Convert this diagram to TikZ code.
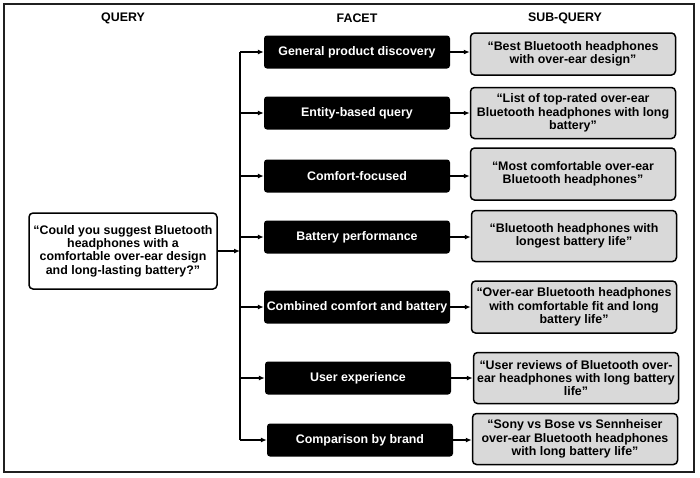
\documentclass[tikz,border=0pt]{standalone}
\usepackage{fontspec}
\setmainfont{Liberation Sans}
\usetikzlibrary{arrows.meta}

\begin{document}
\begin{tikzpicture}[x=1pt,y=-1pt,
        font=\fontsize{12.4}{13.3}\selectfont\bfseries,
        querybox/.style={draw,rounded corners=4pt,line width=1.5pt,fill=white,align=center,minimum width=188pt,minimum height=76pt,inner sep=2pt},
        facetbox/.style={fill=black,text=white,rounded corners=3pt,minimum width=186pt,minimum height=33pt,inner sep=2pt},
        subbox/.style={draw,rounded corners=4pt,line width=1.5pt,fill=gray!30,align=center,minimum width=205pt,minimum height=51pt,inner sep=2pt},
        link/.style={line width=1.2pt,-{Latex[length=6pt,width=5pt]}}]
        \useasboundingbox (0,0) rectangle (700,477);
        \draw[line width=2pt,gray!25!black] (4,4) rectangle (694,472);

        \coordinate (q) at (123,251);
        \coordinate (trunk) at (240,251);
        \coordinate (f1) at (357,52);
        \coordinate (f2) at (357,113);
        \coordinate (f3) at (357,176);
        \coordinate (f4) at (357,237);
        \coordinate (f5) at (357,307);
        \coordinate (f6) at (358,378);
        \coordinate (f7) at (360,440);
        \coordinate (s1) at (573,54);
        \coordinate (s2) at (573,113);
        \coordinate (s3) at (573,174);
        \coordinate (s4) at (574,236);
        \coordinate (s5) at (574,307);
        \coordinate (s6) at (576,378);
        \coordinate (s7) at (575,439);

        % column titles
        \node (QueryTitle) at (123,18) {QUERY};
        \node (FacetTitle) at (357,18) {FACET};
        \node (SubTitle) at (565,18) {SUB-QUERY};

        \node[querybox] (Query) at (q) {“Could you suggest Bluetooth\\headphones with a\\comfortable over-ear design\\and long-lasting battery?”};

        \node[facetbox] (Facet1) at (f1) {General product discovery};
        \node[facetbox] (Facet2) at (f2) {Entity-based query};
        \node[facetbox] (Facet3) at (f3) {Comfort-focused};
        \node[facetbox] (Facet4) at (f4) {Battery performance};
        \node[facetbox] (Facet5) at (f5) {Combined comfort and battery};
        \node[facetbox] (Facet6) at (f6) {User experience};
        \node[facetbox] (Facet7) at (f7) {Comparison by brand};

        \node[subbox,minimum height=42pt] (Sub1) at (s1) {“Best Bluetooth headphones\\with over-ear design”};
        \node[subbox] (Sub2) at (s2) {“List of top-rated over-ear\\Bluetooth headphones with long\\battery”};
        \node[subbox,minimum height=52pt] (Sub3) at (s3) {“Most comfortable over-ear\\Bluetooth headphones”};
        \node[subbox] (Sub4) at (s4) {“Bluetooth headphones with\\longest battery life”};
        \node[subbox,minimum height=52pt] (Sub5) at (s5) {“Over-ear Bluetooth headphones\\with comfortable fit and long\\battery life”};
        \node[subbox] (Sub6) at (s6) {“User reviews of Bluetooth over-\\ear headphones with long battery\\life”};
        \node[subbox] (Sub7) at (s7) {“Sony vs Bose vs Sennheiser\\over-ear Bluetooth headphones\\with long battery life”};

        % query to the trunk, trunk to facets
        \draw[link] (Query.east) -- (trunk);
        \draw[line width=1.2pt] (trunk |- Facet1.west) -- (trunk |- Facet7.west);
        \draw[link] (trunk |- Facet1.west) -- (Facet1.west);
        \draw[link] (trunk |- Facet2.west) -- (Facet2.west);
        \draw[link] (trunk |- Facet3.west) -- (Facet3.west);
        \draw[link] (trunk |- Facet4.west) -- (Facet4.west);
        \draw[link] (trunk |- Facet5.west) -- (Facet5.west);
        \draw[link] (trunk |- Facet6.west) -- (Facet6.west);
        \draw[link] (trunk |- Facet7.west) -- (Facet7.west);

        % facets to sub-queries
        \draw[link] (Facet1.east) -- (Facet1.east -| Sub1.west);
        \draw[link] (Facet2.east) -- (Facet2.east -| Sub2.west);
        \draw[link] (Facet3.east) -- (Facet3.east -| Sub3.west);
        \draw[link] (Facet4.east) -- (Facet4.east -| Sub4.west);
        \draw[link] (Facet5.east) -- (Facet5.east -| Sub5.west);
        \draw[link] (Facet6.east) -- (Facet6.east -| Sub6.west);
        \draw[link] (Facet7.east) -- (Facet7.east -| Sub7.west);
    \end{tikzpicture}
\end{document}
